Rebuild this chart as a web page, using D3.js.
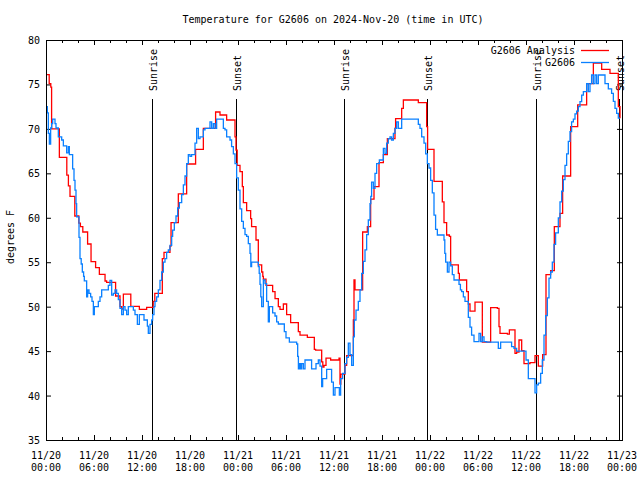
<!DOCTYPE html>
<html><head><meta charset="utf-8">
<script src="https://cdn.jsdelivr.net/npm/d3@7"></script>
<style>
body{margin:0;background:#fff}
svg{display:block}
text{font-family:"DejaVu Sans Mono",monospace;font-size:10px;fill:#000}
</style>
</head><body>
<svg id="c" width="640" height="480"></svg>
<script>
const title = "Temperature for G2606 on 2024-Nov-20 (time in UTC)";
const yLabel = "degrees F";
const yTicks = [35, 40, 45, 50, 55, 60, 65, 70, 75, 80];
const xTickHours = [0, 6, 12, 18, 24, 30, 36, 42, 48, 54, 60, 66, 72];
const xTickDates = ["11/20","11/20","11/20","11/20","11/21","11/21","11/21","11/21","11/22","11/22","11/22","11/22","11/23"];
const xTickTimes = ["00:00","06:00","12:00","18:00","00:00","06:00","12:00","18:00","00:00","06:00","12:00","18:00","00:00"];
const sunriseHours = [13.29, 37.29, 61.25];
const sunsetHours = [23.69, 47.67, 71.63];
const seriesNames = ["G2606 Analysis", "G2606"];

// Analysis (red), hours since 11/20 00:00 UTC, step values
const analysisHours = [0,0.4,0.6,0.7,1.67,2.6,2.8,3.0,3.6,4.1,4.3,4.6,5.2,5.63,6.2,6.67,7.38,7.58,8.7,9.25,9.46,9.67,10.6,11.67,12.58,13.4,13.6,14.54,14.75,15.5,15.63,16.54,17.58,18.7,19.67,21.2,21.75,22.58,23.625,23.75,23.9,24.25,24.54,24.67,25.08,25.58,25.7,26.25,26.54,26.96,27.1,27.17,27.5,28.33,28.63,29.04,29.25,29.67,30.08,30.58,31.54,31.75,32.67,33.54,33.7,34.46,34.6,34.75,35.0,35.58,36.63,36.75,36.85,37.375,37.58,38.42,38.5,38.625,39.58,40.17,40.58,41.0,41.625,42.17,42.67,43.625,43.7,44.46,44.67,46.54,47.58,47.7,48.5,49.54,49.75,50.08,50.42,50.58,51.54,51.67,52.58,52.79,53.0,53.625,54.54,55.58,56.42,56.625,56.75,57.67,57.92,58.625,58.83,59.125,59.46,59.75,60.5,61.125,61.54,62.08,62.5,63.08,63.54,64.25,64.58,65.58,66.46,67.58,68.42,69.46,70.5,71.54,71.75];
const analysisTemps = [76.1,75.1,74.7,70.0,66.8,64.8,63.6,62.4,60.2,59.4,59.0,58.4,57.05,55.06,54.39,53.64,52.89,52.74,51.2,50.0,49.74,51.4,50.04,49.7,49.93,50.6,51.5,55.4,56.1,56.8,59.45,62.7,66.05,67.7,70.06,71.9,71.56,71.0,69.1,67.6,65.9,65.2,63.5,61.7,60.8,59.9,59.0,57.5,54.7,53.9,53.4,53.1,52.4,51.7,50.9,50.0,49.7,50.3,49.1,48.2,47.2,46.8,46.55,45.2,45.1,43.8,43.2,43.4,44.2,44.0,44.2,41.3,42.4,43.4,44.5,48.5,53.0,51.9,58.4,59.0,62.1,63.5,66.2,67.1,68.9,70.06,71.15,72.3,73.25,72.95,70.25,67.7,64.1,61.8,59.45,58.06,57.9,54.7,53.75,53.0,51.7,50.3,49.5,50.5,46.0,49.9,49.8,47.75,47.0,46.9,47.4,44.75,44.9,46.25,45.05,43.6,43.7,44.5,43.3,44.6,53.6,54.05,59.0,60.5,64.7,70.25,72.7,75.1,77.4,76.7,76.25,72.5,71.2];

// Observations (blue)
const obsHours = [0,0.17,0.29,0.42,0.58,0.71,0.83,1.125,1.25,1.54,1.96,2.17,2.58,2.79,2.92,3.33,3.5,3.625,3.75,3.83,4.125,4.25,4.4,4.54,4.7,4.79,5.08,5.2,5.375,5.58,5.75,5.92,6.04,6.54,6.75,6.96,7.79,8.0,8.21,8.42,8.625,8.83,9.04,9.25,9.46,9.67,9.875,10.08,10.29,10.92,11.125,11.42,11.67,12.25,12.67,12.79,13.0,13.21,13.33,13.5,13.625,13.83,14.04,14.25,14.46,14.67,14.875,15.08,15.29,15.5,15.71,15.83,16.04,16.25,16.46,16.67,16.96,17.17,17.375,17.58,17.79,18.0,18.2,18.625,18.83,19.04,19.25,19.67,19.875,20.5,20.71,20.92,21.125,21.33,22.17,22.375,22.58,23.0,23.2,23.42,23.625,23.83,24.04,24.25,24.46,24.67,24.875,25.08,25.29,25.5,25.6,25.7,26.54,26.65,26.75,26.85,26.96,27.17,27.375,27.58,27.79,27.92,28.33,28.625,28.83,29.04,29.79,30.0,30.42,31.33,31.46,31.55,31.67,31.83,31.96,32.17,32.375,33.2,33.75,34.04,34.25,34.46,34.58,35.08,35.7,35.92,36.125,36.67,36.83,37.08,37.375,37.58,37.79,38.0,38.21,38.42,38.54,38.75,39.04,39.25,39.46,39.67,39.875,40.08,40.29,40.5,40.6,40.7,40.92,41.125,41.33,41.67,42.17,42.375,42.58,42.79,43.0,43.2,43.42,43.625,43.83,44.04,44.46,46.54,46.75,46.96,47.25,47.46,47.67,47.875,48.08,48.29,48.5,48.7,48.92,49.75,49.85,49.96,50.17,50.375,50.58,50.79,51.0,51.625,51.8,51.96,52.17,52.375,52.79,53.0,53.2,53.5,54.125,54.33,54.54,54.75,55.08,56.54,56.83,58.2,58.5,58.83,60.0,60.29,61.125,61.33,61.54,61.83,62.04,62.25,62.46,62.67,62.875,63.08,63.29,63.5,63.7,64.04,64.25,64.46,64.67,64.875,65.08,65.29,65.5,65.7,65.92,66.125,66.33,66.54,66.75,66.96,67.17,67.58,67.79,68.0,68.2,68.42,68.625,68.83,69.04,69.875,70.29,70.7,70.92,71.125,71.33,71.54,71.75];
const obsTemps = [72.5,71.8,69.5,68.3,70.1,70.6,71.1,70.6,70.1,69.1,68.75,68.1,67.3,68.0,67.1,65.5,64.2,63.1,61.6,60.1,57.8,55.4,54.8,53.9,53.4,52.9,51.1,51.9,51.5,51.1,50.6,49.1,50.0,50.6,51.1,51.9,52.4,52.96,51.3,51.5,51.9,51.5,50.8,49.8,49.1,50.0,49.6,49.1,50.0,49.6,49.1,48.0,49.1,48.5,47.8,47.0,48.0,48.5,49.1,50.0,50.6,51.1,51.9,52.96,53.9,55.0,55.4,56.1,56.4,56.9,57.9,58.6,59.45,60.2,61.1,61.7,62.6,63.7,64.7,66.1,67.1,66.9,67.1,68.4,70.06,68.9,69.1,69.9,70.06,70.8,70.06,70.6,70.06,71.1,70.06,69.9,69.1,68.75,68.0,67.2,66.1,64.5,63.1,61.0,59.6,58.8,58.1,57.9,57.1,56.0,54.5,55.0,54.5,53.75,52.5,51.1,50.0,53.0,52.6,50.6,48.3,50.0,49.3,48.95,48.3,48.05,47.2,46.5,46.0,45.8,44.4,43.0,43.6,43.0,43.6,43.0,44.0,43.0,43.6,44.0,43.3,41.0,41.9,42.95,41.5,40.06,40.9,40.06,41.9,42.5,43.6,44.3,45.9,44.6,43.4,46.6,48.5,49.6,50.6,51.9,53.75,55.1,56.4,58.1,59.75,61.6,62.4,64.0,63.3,65.0,66.1,66.5,67.8,67.25,68.4,68.9,69.1,68.75,69.5,70.06,70.8,70.06,71.1,70.5,70.06,69.1,68.4,67.2,66.1,65.6,64.2,62.8,60.3,58.7,58.06,57.5,56.0,55.0,53.9,55.0,54.6,53.6,53.0,52.5,51.9,51.7,51.1,50.6,48.8,47.7,46.8,46.06,47.0,46.06,46.6,46.06,46.0,45.3,46.0,45.5,45.3,45.0,44.0,41.9,40.3,41.2,41.4,42.5,44.0,46.8,49.0,51.0,53.2,53.9,55.0,57.0,58.3,60.0,61.8,63.0,64.3,65.9,67.2,68.6,69.7,70.8,71.1,71.7,72.0,72.5,73.06,73.8,74.2,75.1,74.2,75.1,76.06,75.1,76.06,75.1,76.06,75.1,74.5,74.0,73.1,72.3,71.75,71.2,71.2];

const W = 640, H = 480;
const L = 46, R = 622, T = 40, B = 440;
const svg = d3.select("#c");
const x = d3.scaleLinear().domain([0, 72]).range([L, R]);
const y = d3.scaleLinear().domain([35, 80]).range([B, T]);

svg.append("defs").append("clipPath").attr("id", "clip")
  .append("rect").attr("x", L).attr("y", T).attr("width", R - L).attr("height", B - T);

// Title
svg.append("text").attr("x", 333).attr("y", 23).attr("text-anchor", "middle").text(title);

// Y label
svg.append("text").attr("transform", "translate(14,237) rotate(-90)")
  .attr("text-anchor", "middle").text(yLabel);

// Axes with inward ticks
const minorHours = d3.range(0, 73, 2);
const bottomMinor = d3.axisBottom(x).tickValues(minorHours).tickSize(-3).tickFormat("");
const topMinor = d3.axisTop(x).tickValues(minorHours).tickSize(-3).tickFormat("");
const bottomMajor = d3.axisBottom(x).tickValues(xTickHours).tickSize(-5).tickFormat("");
const topMajor = d3.axisTop(x).tickValues(xTickHours).tickSize(-5).tickFormat("");
const leftAx = d3.axisLeft(y).tickValues(yTicks).tickSize(-5).tickFormat("");
const rightAx = d3.axisRight(y).tickValues(yTicks).tickSize(-5).tickFormat("");

function styleAxis(g) {
  g.selectAll("path").remove();
  g.selectAll("line").attr("stroke", "#000").attr("stroke-width", 1);
}
svg.append("g").attr("transform", `translate(0,${B})`).call(bottomMinor).call(styleAxis);
svg.append("g").attr("transform", `translate(0,${T})`).call(topMinor).call(styleAxis);
svg.append("g").attr("transform", `translate(0,${B})`).call(bottomMajor).call(styleAxis);
svg.append("g").attr("transform", `translate(0,${T})`).call(topMajor).call(styleAxis);
svg.append("g").attr("transform", `translate(${L},0)`).call(leftAx).call(styleAxis);
svg.append("g").attr("transform", `translate(${R},0)`).call(rightAx).call(styleAxis);

// Tick labels
svg.append("g").selectAll("text").data(yTicks).join("text")
  .attr("x", L - 6).attr("y", d => y(d) + 4).attr("text-anchor", "end").text(d => d);
const xl = svg.append("g");
xl.selectAll("text.d").data(xTickHours).join("text").attr("class", "d")
  .attr("x", d => x(d)).attr("y", 459).attr("text-anchor", "middle").text((d, i) => xTickDates[i]);
xl.selectAll("text.t").data(xTickHours).join("text").attr("class", "t")
  .attr("x", d => x(d)).attr("y", 471).attr("text-anchor", "middle").text((d, i) => xTickTimes[i]);

// Sunrise / sunset lines and labels
const events = sunriseHours.map(h => ({h, label: "Sunrise"}))
  .concat(sunsetHours.map(h => ({h, label: "Sunset"})));
const ev = svg.append("g");
ev.selectAll("line").data(events).join("line")
  .attr("x1", d => Math.round(x(d.h)) + 0.5).attr("x2", d => Math.round(x(d.h)) + 0.5)
  .attr("y1", 99).attr("y2", B).attr("stroke", "#000").attr("stroke-width", 1);
ev.selectAll("text").data(events).join("text")
  .attr("transform", d => `translate(${Math.round(x(d.h)) + 4.5},91) rotate(-90)`)
  .attr("text-anchor", "start").text(d => d.label);

// Data lines
const lineGen = d3.line().x(d => x(d[0])).y(d => y(d[1])).curve(d3.curveStepAfter);
const analysis = analysisHours.map((h, i) => [h, analysisTemps[i]]);
const obs = obsHours.map((h, i) => [h, obsTemps[i]]);
const dataG = svg.append("g").attr("clip-path", "url(#clip)");
dataG.append("path").datum(analysis).attr("d", lineGen)
  .attr("fill", "none").attr("stroke", "#ff0000").attr("stroke-width", 1.3);
dataG.append("path").datum(obs).attr("d", lineGen)
  .attr("fill", "none").attr("stroke", "#0a80ff").attr("stroke-width", 1.3);

// Frame
svg.append("rect").attr("x", L + 0.5).attr("y", T + 0.5).attr("width", R - L).attr("height", B - T)
  .attr("fill", "none").attr("stroke", "#000").attr("stroke-width", 1);

// Legend
const legColors = ["#ff0000", "#0a80ff"];
const lg = svg.append("g");
seriesNames.forEach((name, i) => {
  const yy = 50 + i * 12;
  lg.append("text").attr("x", 575).attr("y", yy + 4).attr("text-anchor", "end").text(name);
  lg.append("line").attr("x1", 581).attr("x2", 609).attr("y1", yy + 0.5).attr("y2", yy + 0.5)
    .attr("stroke", legColors[i]).attr("stroke-width", 1.3);
});
</script>
</body></html>
